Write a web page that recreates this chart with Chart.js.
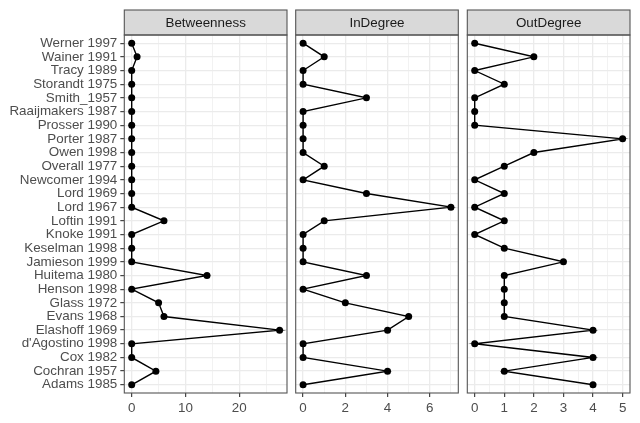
<!DOCTYPE html>
<html>
<head>
<meta charset="utf-8">
<script src="https://cdn.jsdelivr.net/npm/chart.js@4"></script>
<style>
  html, body { margin: 0; padding: 0; background: #ffffff; }
  #wrap { position: relative; width: 640px; height: 423px; overflow: hidden; }
  canvas { position: absolute; left: 0; top: 0; }
</style>
</head>
<body>
<div id="wrap">
  <canvas id="c1" width="640" height="423"></canvas>
  <canvas id="c2" width="640" height="423"></canvas>
  <canvas id="c3" width="640" height="423"></canvas>
</div>
<script>
const categories = [
  "Werner 1997", "Wainer 1991", "Tracy 1989", "Storandt 1975", "Smith_1957",
  "Raaijmakers 1987", "Prosser 1990", "Porter 1987", "Owen 1998", "Overall 1977",
  "Newcomer 1994", "Lord 1969", "Lord 1967", "Loftin 1991", "Knoke 1991",
  "Keselman 1998", "Jamieson 1999", "Huitema 1980", "Henson 1998", "Glass 1972",
  "Evans 1968", "Elashoff 1969", "d'Agostino 1998", "Cox 1982", "Cochran 1957",
  "Adams 1985"
];
const betweenness = [0, 1, 0, 0, 0, 0, 0, 0, 0, 0, 0, 0, 0, 6, 0, 0, 0, 14, 0, 5, 6, 27.5, 0, 0, 4.5, 0];
const inDegree    = [0, 1, 0, 0, 3, 0, 0, 0, 0, 1, 0, 3, 7, 1, 0, 0, 0, 3, 0, 2, 5, 4, 0, 0, 4, 0];
const outDegree   = [0, 2, 0, 1, 0, 0, 0, 5, 2, 1, 0, 1, 0, 1, 0, 1, 3, 1, 1, 1, 1, 4, 0, 4, 1, 4];

const panelTitles = ["Betweenness", "InDegree", "OutDegree"];
const betweennessTicks = [0, 5, 10, 15, 20, 25];
const betweennessLabels = [0, 10, 20];
const inDegreeTicks = [0, 1, 2, 3, 4, 5, 6, 7];
const inDegreeLabels = [0, 2, 4, 6];
const outDegreeTicks = [0, 0.5, 1, 1.5, 2, 2.5, 3, 3.5, 4, 4.5, 5];
const outDegreeLabels = [0, 1, 2, 3, 4, 5];

const FONT = { family: "'Liberation Sans', Arial, sans-serif", size: 13.4 };

const panelPlugin = {
  id: 'panelFrame',
  afterDraw(chart, args, opts) {
    const { left, top, right, bottom } = chart.chartArea;
    const ctx = chart.ctx;
    ctx.save();
    ctx.fillStyle = '#D9D9D9';
    ctx.fillRect(left, 10, right - left, top - 10);
    ctx.strokeStyle = '#555555';
    ctx.lineWidth = 1.1;
    ctx.strokeRect(left, 10, right - left, top - 10);
    ctx.fillStyle = '#1A1A1A';
    ctx.font = FONT.size + 'px ' + FONT.family;
    ctx.textAlign = 'center';
    ctx.textBaseline = 'middle';
    ctx.fillText(opts.title, (left + right) / 2, (10 + top) / 2 + 0.5);
    ctx.strokeRect(left, top, right - left, bottom - top);
    ctx.restore();
  }
};

function makeChart(id, title, values, ticks, labelTicks, padL, padR, showY) {
  const lo = Math.min(...values), hi = Math.max(...values);
  const ex = (hi - lo) * 0.05;
  const data = values.map((v, i) => ({ x: v, y: i }));
  return new Chart(document.getElementById(id), {
    type: 'scatter',
    data: {
      datasets: [{
        data: data,
        showLine: true,
        borderColor: '#000000',
        backgroundColor: '#000000',
        borderWidth: 1.4,
        pointRadius: 3.5,
        pointHoverRadius: 3.5,
        pointBorderWidth: 0
      }]
    },
    options: {
      responsive: false,
      animation: false,
      events: [],
      layout: { padding: { left: padL, right: padR, top: 35, bottom: 0 } },
      plugins: {
        legend: { display: false },
        tooltip: { enabled: false },
        title: { display: false },
        panelFrame: { title: title }
      },
      scales: {
        x: {
          type: 'linear',
          min: lo - ex,
          max: hi + ex,
          afterBuildTicks: s => { s.ticks = ticks.map(v => ({ value: v })); },
          afterFit: s => { s.height = 30; },
          border: { display: false },
          grid: {
            color: '#EBEBEB',
            lineWidth: c => labelTicks.includes(c.tick.value) ? 1.3 : 0.65,
            drawTicks: true,
            tickLength: 4,
            tickWidth: 1.1,
            tickColor: c => labelTicks.includes(c.tick.value) ? '#333333' : 'rgba(0,0,0,0)'
          },
          ticks: {
            autoSkip: false,
            maxRotation: 0,
            padding: 3,
            color: '#4D4D4D',
            font: FONT,
            callback: v => labelTicks.includes(v) ? String(v) : ''
          }
        },
        y: {
          type: 'linear',
          reverse: true,
          min: -0.6,
          max: categories.length - 1 + 0.6,
          afterBuildTicks: s => { s.ticks = categories.map((c, i) => ({ value: i })); },
          afterFit: s => { s.width = showY ? 124.3 : 0; },
          border: { display: false },
          grid: {
            color: '#EBEBEB',
            lineWidth: 1.3,
            drawTicks: showY,
            tickLength: 4,
            tickWidth: 1.1,
            tickColor: '#333333'
          },
          ticks: {
            display: showY,
            autoSkip: false,
            padding: 3,
            color: '#4D4D4D',
            font: FONT,
            callback: v => categories[v]
          }
        }
      }
    },
    plugins: [panelPlugin]
  });
}

makeChart('c1', panelTitles[0], betweenness, betweennessTicks, betweennessLabels, 0, 640 - 287, true);
makeChart('c2', panelTitles[1], inDegree, inDegreeTicks, inDegreeLabels, 295.7, 640 - 458.3, false);
makeChart('c3', panelTitles[2], outDegree, outDegreeTicks, outDegreeLabels, 467.3, 10, false);
</script>
</body>
</html>
